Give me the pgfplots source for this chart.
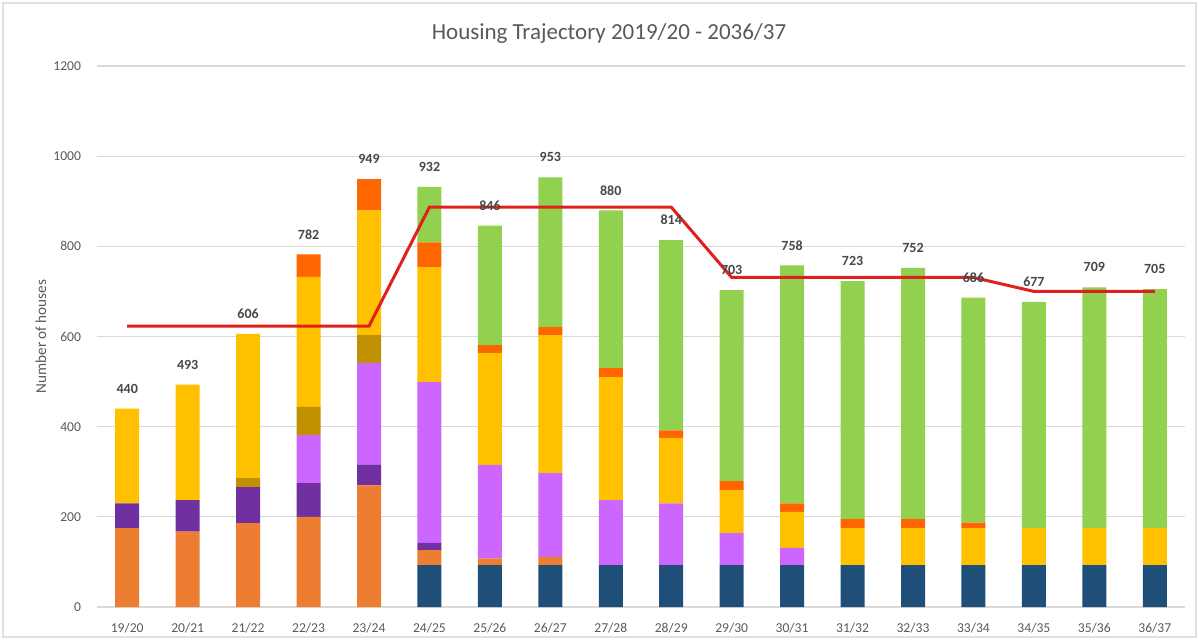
\documentclass[border=0pt]{standalone}
\usepackage{pgfplots}
\pgfplotsset{compat=1.18}
\usepackage{pgfplotstable}
\usepackage{fontspec}
\setmainfont{Carlito}
\definecolor{cblue}{HTML}{1F4E79}
\definecolor{corange}{HTML}{ED7D31}
\definecolor{cdpurple}{HTML}{7030A0}
\definecolor{clpurple}{HTML}{CC66FF}
\definecolor{cgold}{HTML}{BF9000}
\definecolor{cyellow}{HTML}{FFC000}
\definecolor{cored}{HTML}{FF6600}
\definecolor{cgreen}{HTML}{92D050}
\definecolor{cline}{HTML}{E0201C}
\definecolor{ctext}{HTML}{595959}
\pgfplotstableread{
x blue orange dpurple lpurple gold yellow ored green total
0 0 175 55 0 0 210 0 0 440
1 0 167 70 0 0 256 0 0 493
2 0 186 80 0 20 320 0 0 606
3 0 200 75 106 63 288 50 0 782
4 0 270 45 226 62 277 69 0 949
5 93 33 16 357 0 255 55 123 932
6 93 15 0 207 0 248 18 265 846
7 93 18 0 186 0 306 18 332 953
8 93 0 0 144 0 273 20 350 880
9 93 0 0 137 0 145 17 422 814
10 93 0 0 71 0 95 20 424 703
11 93 0 0 38 0 80 19 528 758
12 93 0 0 0 0 82 20 528 723
13 93 0 0 0 0 82 20 557 752
14 93 0 0 0 0 82 12 499 686
15 93 0 0 0 0 82 0 502 677
16 93 0 0 0 0 82 0 534 709
17 93 0 0 0 0 82 0 530 705
}\data
\pgfplotstableread{
x y
0 623
1 623
2 623
3 623
4 623
5 887
6 887
7 887
8 887
9 887
10 731
11 731
12 731
13 731
14 731
15 700
16 700
17 700
}\trajectory
\begin{document}
\begin{tikzpicture}
\pgfplotsset{
  base/.style={
    scale only axis, width=544pt, height=270.5pt,
    xmin=-0.5, xmax=17.5, ymin=0, ymax=1200,
    /pgf/number format/assume math mode=true,
    /pgf/number format/1000 sep={},
  }
}
\begin{axis}[base, name=ax,
  ybar stacked, bar width=12pt,
  axis line style={draw=none},
  ytick={0,200,...,1200},
  ymajorgrids, major grid style={draw=black!15, line width=0.6pt},
  major tick length=0pt,
  xtick={0,...,17},
  xticklabels={19/20,20/21,21/22,22/23,23/24,24/25,25/26,26/27,27/28,28/29,29/30,30/31,31/32,32/33,33/34,34/35,35/36,36/37},
  tick label style={font=\fontsize{6.8}{8}\selectfont, text=ctext},
  yticklabel style={xshift=-4.5pt},
  xticklabel style={yshift=-4.5pt},
  every axis plot/.append style={draw=none},
]
\addplot[fill=cblue] table[x=x,y=blue]{\data};
\addplot[fill=corange] table[x=x,y=orange]{\data};
\addplot[fill=cdpurple] table[x=x,y=dpurple]{\data};
\addplot[fill=clpurple] table[x=x,y=lpurple]{\data};
\addplot[fill=cgold] table[x=x,y=gold]{\data};
\addplot[fill=cyellow] table[x=x,y=yellow]{\data};
\addplot[fill=cored] table[x=x,y=ored]{\data};
\addplot[fill=cgreen] table[x=x,y=green]{\data};
\end{axis}
\begin{axis}[base, axis lines=none, ticks=none,
  /pgf/number format/assume math mode=true]
\addplot[draw=none, mark=none, point meta=explicit,
  nodes near coords={\pgfmathprintnumber{\pgfplotspointmeta}},
  nodes near coords style={anchor=center, yshift=10pt, font=\bfseries\fontsize{7}{8}\selectfont, text=black!72}]
  table[x=x,y=total,meta=total]{\data};
\addplot[cline, line width=1.5pt, sharp plot, mark=none] table[x=x,y=y]{\trajectory};
\end{axis}
\node[font=\fontsize{11.5}{13}\selectfont, text=ctext] at ([xshift=-16pt,yshift=16.5pt]ax.north) {Housing Trajectory 2019/20 - 2036/37};
\node[rotate=90, font=\fontsize{7.6}{9}\selectfont, text=ctext] at ([xshift=-28pt]ax.west) {Number of houses};
\pgfresetboundingbox
\draw[black!12, line width=0.6pt] ([xshift=-47pt,yshift=-15pt]ax.south west) rectangle ([xshift=5.5pt,yshift=31.5pt]ax.north east);
\useasboundingbox ([xshift=-48.5pt,yshift=-16pt]ax.south west) rectangle ([xshift=6.5pt,yshift=33pt]ax.north east);
\end{tikzpicture}
\end{document}
